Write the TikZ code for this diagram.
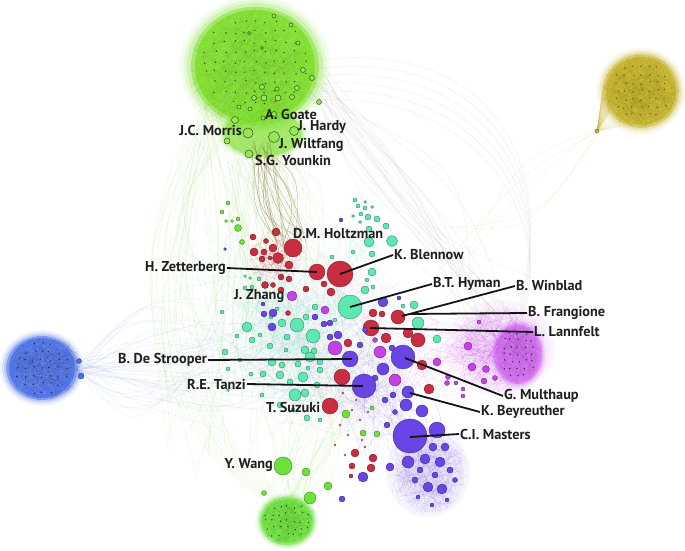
\documentclass[tikz,border=0pt]{standalone}
\usepackage{fontspec}
\setmainfont{PT Sans}
\definecolor{lime}{HTML}{7EE02A}
\definecolor{limeB}{HTML}{6DE23B}
\definecolor{dkgreen}{HTML}{2D5A12}
\definecolor{gold}{HTML}{C8B62A}
\definecolor{dkgold}{HTML}{6A5E10}
\definecolor{blueC}{HTML}{4A70E8}
\definecolor{pinkC}{HTML}{D060F0}
\definecolor{purpleN}{HTML}{6A45E6}
\definecolor{magN}{HTML}{C343E6}
\definecolor{tealN}{HTML}{5DE8B2}
\definecolor{redN}{HTML}{C92D40}
\definecolor{brownE}{HTML}{8A7435}
\newcommand\nd[4]{\path[fill=#1, draw=#1!55!black, line width=0.35pt] (#2,#3) circle (#4pt);}
\newcommand\rlines[7]{%
  \foreach \i in {1,...,#6}{%
    \pgfmathsetmacro\aa{rnd*360}\pgfmathsetmacro\ra{sqrt(rnd)}%
    \pgfmathsetmacro\ab{rnd*360}\pgfmathsetmacro\rb{sqrt(rnd)}%
    \draw[#5, opacity=#7, line width=0.25pt] ({#1+#3*\ra*cos(\aa)},{#2+#4*\ra*sin(\aa)}) -- ({#1+#3*\rb*cos(\ab)},{#2+#4*\rb*sin(\ab)});
  }}
\newcommand\rdots[6]{%
  \foreach \gx in {-8,...,8}{\foreach \gy in {-8,...,8}{%
    \pgfmathsetmacro\dd{(\gx*#6/#3)^2+(\gy*#6/#4)^2}%
    \ifdim\dd pt<0.78pt \fill[#5] ({#1+\gx*#6+1.6*rand},{#2+\gy*#6+1.6*rand}) circle (0.8pt);\fi
  }}}
\newcommand\fan[9]{%
  \foreach \i in {1,...,#9}{%
    \draw[#8] ({#1+#5*rand},{#2+#5*rand}) .. controls ({(#1+#3)/2+#7*rand},{(#2+#4)/2+#7*rand}) .. ({#3+#6*rand},{#4+#6*rand});
  }}
% soft blob: cx cy rx ry colour
\newcommand\blob[5]{%
  \foreach \s/\o in {1.14/0.08, 1.08/0.12, 1.03/0.2, 0.97/0.5}{%
    \fill[#5, opacity=\o] (#1,#2) ellipse ({#3*\s pt} and {#4*\s pt});}}
\begin{document}
\begin{tikzpicture}[x=1pt,y=-1pt,
  lbl/.style={font=\bfseries\fontsize{14.3}{16}\selectfont, text=black!88, inner sep=1pt},
  lead/.style={line width=1.8pt, black!92}]
\useasboundingbox[fill=white] (0,0) rectangle (685,551);
\pgfmathsetseed{7}

% ---------- faint long edges ----------
\fan{255}{130}{300}{330}{35}{80}{60}{lime!80!black, opacity=0.16, line width=0.3pt}{60}
\fan{215}{120}{205}{420}{20}{60}{70}{lime, opacity=0.22, line width=0.3pt}{25}
\foreach \k in {0,...,7}{
  \draw[lime, opacity=0.22, line width=0.3pt] (200+3*\k,110+2*\k) .. controls (110+8*\k,260) and (150+6*\k,430) .. (265+2*\k,500-\k);
}
\fan{312}{80}{500}{320}{15}{40}{70}{gray, opacity=0.16, line width=0.3pt}{22}
\foreach \k in {0,...,5}{
  \draw[gray, opacity=0.18, line width=0.3pt] (320,60+8*\k) .. controls (480,40+10*\k) and (560,150+15*\k) .. (520,300+5*\k);
}
\fan{80}{368}{290}{350}{8}{90}{80}{blueC!60!white, opacity=0.22, line width=0.3pt}{45}
\fan{290}{500}{320}{380}{15}{60}{60}{lime, opacity=0.2, line width=0.3pt}{30}
\fan{490}{345}{400}{360}{20}{50}{50}{pinkC, opacity=0.2, line width=0.3pt}{40}
\fan{597}{131}{450}{260}{3}{40}{40}{gold!60!white, opacity=0.3, line width=0.3pt}{5}
\fan{430}{470}{380}{380}{20}{40}{40}{purpleN!60!white, opacity=0.22, line width=0.3pt}{30}
\fan{280}{330}{210}{260}{30}{50}{40}{tealN, opacity=0.2, line width=0.3pt}{20}
\fan{360}{230}{330}{360}{20}{60}{50}{tealN, opacity=0.18, line width=0.3pt}{25}
% central haze
\rlines{330}{345}{95}{95}{purpleN!60!white}{220}{0.16}
\rlines{290}{340}{70}{80}{tealN}{160}{0.2}
\rlines{275}{258}{28}{28}{redN}{70}{0.25}
\rlines{375}{400}{45}{60}{purpleN}{90}{0.18}

% ---------- top green cluster ----------
\blob{255}{66}{66}{61}{lime}
\fill[lime, opacity=0.8] (255,66) ellipse (60pt and 56pt);
\blob{263}{133}{40}{24}{lime}
\rlines{255}{70}{68}{64}{lime!75!black}{350}{0.18}
\rlines{255}{70}{68}{64}{white}{80}{0.12}
\fan{262}{148}{292}{240}{12}{15}{25}{brownE, opacity=0.5, line width=0.45pt}{16}
\rdots{255}{62}{60}{52}{dkgreen}{10}
\foreach \x/\y/\r in {274/114/2.5, 248/133/5, 294/131/4.5, 274/137/5.5, 249/154/4,
  235/120/3.5, 227/141/3, 278/98/3, 264/98/3, 254/98/2.5, 262/87/2.5, 277/89/2,
  292/97/2.5, 297/88/2.5, 312/78/2.5, 303/70/2.5, 298/43/2, 291/25/2, 274/16/2,
  319/102/2.5, 249/33/1.5, 262/48/1.5, 239/107/2, 250/109/2, 263/118/2}{
  \path[fill=lime!80!white, draw=dkgreen, line width=0.5pt] (\x,\y) circle (\r pt);
}

% ---------- yellow cluster ----------
\foreach \k in {1,...,40}{
  \draw[gold, opacity=0.35, line width=0.25pt] (597,131) -- ({641+38*cos(100+\k*4.5)},{91+38*sin(100+\k*4.5)*0.9});
}
\blob{641}{91}{39}{38}{gold}
\fill[gold, opacity=0.8] (641,91) ellipse (35pt and 34pt);
\rlines{641}{91}{40}{39}{gold!75!black}{300}{0.2}
\rdots{641}{91}{36}{35}{dkgold}{8}
\path[fill=gold, draw=dkgold, line width=0.4pt] (597,131) circle (2pt);

% ---------- blue cluster ----------
\blob{42}{368}{37}{33}{blueC}
\fill[blueC, opacity=0.8] (42,368) ellipse (33pt and 30pt);
\rlines{44}{368}{38}{34}{blueC!70!black}{250}{0.2}
\rlines{44}{368}{38}{34}{white}{60}{0.14}
\rdots{42}{368}{33}{30}{blueC!40!black}{8}
\nd{blueC}{79}{361}{2.5}
\nd{blueC}{81}{376}{3}

% ---------- pink cluster ----------
\fill[pinkC, opacity=0.06] (500,348) ellipse (55pt and 48pt);
\fill[pinkC, opacity=0.06] (505,350) ellipse (45pt and 42pt);
\rlines{498}{348}{50}{44}{pinkC}{220}{0.28}
\blob{518}{354}{25}{31}{pinkC}
\fill[pinkC, opacity=0.45] (518,354) ellipse (22pt and 28pt);
\rlines{518}{354}{24}{30}{pinkC!70!black}{120}{0.25}
\rdots{518}{354}{22}{28}{pinkC!35!black}{7}
\foreach \x/\y/\r in {468/346/4, 472/367/4, 486/369/3.5, 484/381/3, 495/378/2.5, 479/322/2,
  447/383/2.5, 456/383/2, 448/377/2.5, 463/389/2, 463/396/2, 437/362/4}{\nd{magN}{\x}{\y}{\r}}

% ---------- purple bottom cluster ----------
\fill[purpleN!40!white, opacity=0.12] (428,472) ellipse (42pt and 45pt);
\fill[purpleN!40!white, opacity=0.12] (430,475) ellipse (34pt and 38pt);
\rlines{428}{472}{40}{44}{purpleN!70!white}{240}{0.24}

% ---------- bottom green cluster ----------
\blob{287}{521}{28}{25}{limeB}
\fill[limeB, opacity=0.75] (287,521) ellipse (25pt and 22pt);
\rlines{287}{520}{30}{27}{limeB!70!black}{150}{0.2}
\rdots{287}{521}{26}{23}{dkgreen}{7}

% ---------- central nodes ----------
\foreach \x/\y/\r in {369/242/5, 392/241/5.5, 369/229/3, 377/219/3, 386/226/3, 368/217/3, 361/214/2,
  365/208/2, 358/206/2, 355/200/2, 365/202/1.5, 372/207/1.5, 360/222/1.5, 353/216/1.5, 372/254/3,
  353/252/2, 332/257/2, 372/272/4, 367/280/2, 365/290/4, 373/287/2, 414/305/4, 403/306/2, 418/323/6,
  437/339/4, 277/309/2, 271/317/2, 282/323/4, 297/325/7, 306/317/3, 315/307/3, 335/320/2, 247/327/5,
  222/312/2, 245/276/1.5, 250/278/1.5, 245/288/2, 252/287/2, 259/279/2, 225/352/3, 228/369/2,
  251/374/2, 263/374/3, 272/362/4, 282/365/3, 280/375/4, 298/364/3, 290/382/3, 295/395/6, 305/393/4,
  307/418/3, 320/420/2, 260/335/2, 252/340/3, 287/337/3, 313/336/7, 305/350/4, 314/351/3,
  320/362/3, 320/370/3, 317/385/3, 308/368/2, 310/357/5, 303/377/5, 270/346/3, 286/350/2,
  240/360/2, 262/395/2, 280/405/3, 293/410/2, 228/390/1.5, 237/336/2}{\nd{tealN}{\x}{\y}{\r}}
\nd{tealN}{350}{307}{12}
\foreach \x/\y/\r in {276/232/4, 253/237/3, 266/241/2.5, 273/248/4, 254/252/4, 264/252/3, 262/259/3,
  278/258/5.5, 270/258/2, 289/265/4, 281/277/3, 289/279/3, 265/285/3.5, 273/285/2.5, 281/290/3,
  306/289/3, 331/292/4, 324/284/3, 373/313/4, 382/314/3, 386/338/5, 408/333/5, 418/340/7,
  348/343/4, 422/365/5, 429/389/5, 355/453/4, 373/458/4, 371/468/4, 352/466/3, 351/476/2,
  288/313/2.5, 342/377/8, 330/406/8, 293/248/9, 317/272/8, 398/317/7, 371/328/8}{\nd{redN}{\x}{\y}{\r}}
\foreach \x/\y in {356/400, 352/410, 360/420, 340/425, 362/440, 348/435, 335/445, 345/455, 365/447, 368/412, 343/393}{
  \fill[redN!80!black, opacity=0.8] (\x,\y) circle (1.3pt);
}
\nd{redN}{340}{274}{13}
\foreach \x/\y/\r in {383/302/5, 399/298/2, 383/369/6, 338/335/4, 330/337/3, 315/317/3, 324/324/3,
  330/323/3, 273/313/4, 264/314/3, 272/327/4, 263/304/2, 406/405/6, 422/411/6, 387/425/3,
  437/430/8, 408/462/6, 425/459/5, 440/462/5, 433/447/4, 445/447/4, 428/487/5, 442/489/5,
  390/467/4, 363/477/5, 420/470/3, 435/475/3, 450/470/3, 415/480/3, 455/480/2.5, 447/500/2,
  418/497/2, 432/505/2, 342/499/3, 341/220/2, 225/249/1.5, 360/345/3, 365/330/2.5, 392/348/3,
  375/378/3, 393/395/3, 395/412/2.5, 385/400/3, 408/392/6, 350/359/8}{\nd{purpleN}{\x}{\y}{\r}}
\nd{purpleN}{403}{357}{12}
\nd{purpleN}{364}{386}{12}
\nd{purpleN}{410}{436}{17}
\foreach \x/\y/\r in {292/296/5, 325/310/4, 335/348/7, 380/352/6, 395/380/6, 375/340/2.5}{\nd{magN}{\x}{\y}{\r}}
\foreach \x/\y/\r in {346/414/4, 363/433/3, 377/434/3, 372/408/2, 306/472/4, 310/498/6, 328/486/4,
  264/493/2.5, 228/203/2, 222/212/2, 226/221/1.5, 232/221/1.5, 238/219/2, 238/228/3.5, 242/242/2.5}{\nd{limeB}{\x}{\y}{\r}}
\nd{limeB}{283}{466}{9}

% ---------- anchor points of leader lines ----------
\coordinate (cZet) at (317,272);
\coordinate (cBlen) at (340,274);
\coordinate (cHym) at (350,307);
\coordinate (cWin) at (402,316);
\coordinate (cFra) at (409,314);
\coordinate (cLan) at (370,328);
\coordinate (cDeS) at (352,359);
\coordinate (cTan) at (363,386);
\coordinate (cMul) at (405,358);
\coordinate (cBey) at (410,393);
\coordinate (cMas) at (410,437);

% ---------- labels ----------
\node[lbl, anchor=west] (lGoa) at (264,114) {A. Goate};
\node[lbl, anchor=west] (lHar) at (297,127) {J. Hardy};
\node[lbl, anchor=east] (lMor) at (243,130) {J.C. Morris};
\node[lbl, anchor=west] (lWil) at (278,145) {J. Wiltfang};
\node[lbl, anchor=west] (lYou) at (254,160) {S.G. Younkin};
\node[lbl, anchor=west] (lHol) at (292,234) {D.M. Holtzman};
\node[lbl, anchor=west] (lBlen) at (393,255) {K. Blennow};
\node[lbl, anchor=east] (lZet) at (227,268) {H. Zetterberg};
\node[lbl, anchor=west] (lZha) at (233,296) {J. Zhang};
\node[lbl, anchor=west] (lHym) at (432,284) {B.T. Hyman};
\node[lbl, anchor=west] (lWin) at (515,286) {B. Winblad};
\node[lbl, anchor=west] (lFra) at (527,313) {B. Frangione};
\node[lbl, anchor=west] (lLan) at (533,332) {L. Lannfelt};
\node[lbl, anchor=east] (lDeS) at (208,360) {B. De Strooper};
\node[lbl, anchor=east] (lTan) at (247,384) {R.E. Tanzi};
\node[lbl, anchor=west] (lSuz) at (265,407) {T. Suzuki};
\node[lbl, anchor=west] (lMul) at (503,396) {G. Multhaup};
\node[lbl, anchor=west] (lBey) at (480,412) {K. Beyreuther};
\node[lbl, anchor=west] (lMas) at (459,434) {C.I. Masters};
\node[lbl, anchor=east] (lWan) at (274,465) {Y. Wang};

% ---------- leader lines ----------
\draw[lead] (lZet.east) -- (cZet);
\draw[lead] (lBlen.west) -- (cBlen);
\draw[lead] (lHym.west) -- (cHym);
\draw[lead] (lWin.west) -- (cWin);
\draw[lead] (lFra.west) -- (cFra);
\draw[lead] (lLan.west) -- (cLan);
\draw[lead] (lDeS.east) -- (cDeS);
\draw[lead] (lTan.east) -- (cTan);
\draw[lead] (lMul.west) -- (cMul);
\draw[lead] (lBey.west) -- (cBey);
\draw[lead] (lMas.west) -- (cMas);
\end{tikzpicture}
\end{document}
